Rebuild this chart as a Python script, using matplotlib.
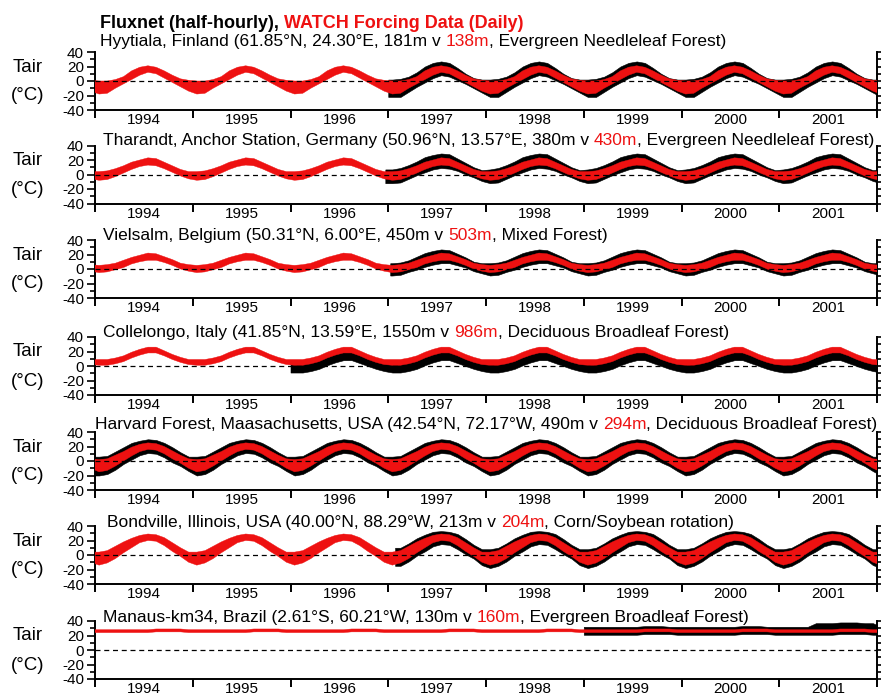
import matplotlib
matplotlib.use('Agg')
import matplotlib.pyplot as plt
from matplotlib.ticker import MultipleLocator, FixedLocator, NullFormatter, FixedFormatter
import numpy as np

plt.rcParams['font.family'] = ['Liberation Sans', 'DejaVu Sans']
plt.rcParams['axes.unicode_minus'] = False

RED = '#ee1111'

# ---------------- data (monthly, Jan..Dec, degC) ----------------
years = [1994, 1995, 1996, 1997, 1998, 1999, 2000, 2001]
year_labels = ['1994', '1995', '1996', '1997', '1998', '1999', '2000', '2001']

# Hyytiala
hyy_red_lo = [-18, -17, -10, -4, 2, 8, 12, 10, 4, -2, -8, -14]
hyy_red_hi = [0, 0, 2, 6, 14, 19, 21, 19, 14, 8, 3, 1]
hyy_blk_lo = [-22, -22, -15, -8, -2, 4, 8, 6, 1, -4, -10, -16]
hyy_blk_hi = [2, 3, 6, 12, 20, 25, 27, 25, 18, 10, 4, 2]
hyy_blk_start = 1997.0
# Tharandt
tha_red_lo = [-8, -7, -3, 2, 7, 11, 13, 12, 8, 3, -2, -6]
tha_red_hi = [4, 5, 8, 12, 17, 20, 23, 22, 17, 12, 7, 4]
tha_blk_lo = [-12, -11, -6, -1, 3, 7, 9, 8, 5, 0, -4, -9]
tha_blk_hi = [7, 9, 13, 18, 24, 27, 29, 28, 22, 16, 10, 6]
tha_blk_start = 1996.97
# Vielsalm
vie_red_lo = [-5, -4, -1, 2, 7, 10, 12, 12, 9, 5, 0, -3]
vie_red_hi = [5, 6, 8, 12, 16, 19, 22, 21, 17, 13, 8, 6]
vie_blk_lo = [-9, -8, -4, -1, 3, 6, 8, 8, 5, 2, -3, -6]
vie_blk_hi = [8, 9, 12, 17, 22, 25, 27, 26, 21, 16, 10, 8]
vie_blk_start = 1997.02
# Collelongo
col_red_lo = [1, 1, 3, 6, 11, 15, 18, 18, 14, 9, 5, 2]
col_red_hi = [9, 9, 11, 14, 19, 23, 26, 26, 21, 16, 12, 9]
col_blk_lo = [-9, -9, -7, -4, 1, 5, 8, 8, 4, 0, -4, -7]
col_blk_hi = [5, 5, 7, 10, 16, 20, 23, 23, 18, 13, 8, 5]
col_blk_start = 1996.0
# Harvard Forest
har_red_lo = [-15, -13, -7, 0, 7, 13, 16, 15, 10, 3, -3, -10]
har_red_hi = [2, 3, 8, 13, 19, 23, 25, 24, 20, 14, 8, 3]
har_blk_lo = [-20, -18, -12, -4, 2, 8, 11, 10, 5, -2, -7, -14]
har_blk_hi = [6, 7, 13, 19, 25, 28, 30, 29, 25, 19, 12, 6]
har_blk_start = 1994.0
# Bondville
bon_red_lo = [-14, -11, -5, 3, 10, 17, 20, 19, 13, 5, -2, -10]
bon_red_hi = [4, 6, 12, 18, 23, 27, 29, 28, 24, 17, 10, 4]
bon_blk_lo = [-18, -15, -9, -1, 5, 12, 15, 14, 8, 1, -5, -14]
bon_blk_hi = [8, 10, 16, 23, 28, 32, 33, 32, 29, 22, 14, 8]
bon_blk_start = 1997.07
# Manaus
man_red_lo = [24, 24, 24, 24, 24, 24, 24, 25, 25, 25, 25, 24]
man_red_hi = [28, 28, 28, 28, 28, 28, 28, 29, 29, 29, 29, 28]
man_blk_lo = [21, 21, 21, 21, 21, 21, 21, 22, 22, 22, 22, 21]
man_blk_hi = [32, 32, 32, 32, 32, 32, 32, 33, 33, 33, 32, 32]
man_blk_hi_2001 = [32, 32, 32, 32, 37, 37, 37, 38, 38, 38, 37, 37]
man_blk_start = 1999.0

site_titles = [
    ["Hyytiala, Finland (61.85°N, 24.30°E, 181m v", " 138m", ", Evergreen Needleleaf Forest)"],
    ["Tharandt, Anchor Station, Germany (50.96°N, 13.57°E, 380m v", " 430m", ", Evergreen Needleleaf Forest)"],
    ["Vielsalm, Belgium (50.31°N, 6.00°E, 450m v", " 503m", ", Mixed Forest)"],
    ["Collelongo, Italy (41.85°N, 13.59°E, 1550m v", " 986m", ", Deciduous Broadleaf Forest)"],
    ["Harvard Forest, Maasachusetts, USA (42.54°N, 72.17°W, 490m v", " 294m", ", Deciduous Broadleaf Forest)"],
    ["Bondville, Illinois, USA (40.00°N, 88.29°W, 213m v", " 204m", ", Corn/Soybean rotation)"],
    ["Manaus-km34, Brazil (2.61°S, 60.21°W, 130m v", " 160m", ", Evergreen Broadleaf Forest)"],
]

sites = [
    (hyy_red_lo, hyy_red_hi, hyy_blk_lo, hyy_blk_hi, hyy_blk_start, None),
    (tha_red_lo, tha_red_hi, tha_blk_lo, tha_blk_hi, tha_blk_start, None),
    (vie_red_lo, vie_red_hi, vie_blk_lo, vie_blk_hi, vie_blk_start, None),
    (col_red_lo, col_red_hi, col_blk_lo, col_blk_hi, col_blk_start, None),
    (har_red_lo, har_red_hi, har_blk_lo, har_blk_hi, har_blk_start, None),
    (bon_red_lo, bon_red_hi, bon_blk_lo, bon_blk_hi, bon_blk_start, None),
    (man_red_lo, man_red_hi, man_blk_lo, man_blk_hi, man_blk_start, {2001: man_blk_hi_2001}),
]

# ---------------- layout ----------------
W, H = 881, 700
fig = plt.figure(figsize=(W / 100, H / 100), dpi=100)
renderer = fig.canvas.get_renderer()

AX_L, AX_W, AX_H = 95, 782, 58
panel_tops = [52, 145.5, 240, 337, 432, 526, 621]
title_base = [46, 145, 240, 337, 429, 527, 622]
title_x = [100, 103, 103, 103, 95, 107, 103]
TITLE_FS = 12.5


def fx(px):
    return px / W


def fy(py):
    return 1 - py / H


def text_width(s, **kw):
    t = fig.text(0, 0, s, **kw)
    w = t.get_window_extent(renderer).width
    t.remove()
    return w


def draw_parts(x, y, parts, colors, **kw):
    sp = text_width("x x", **kw) - text_width("xx", **kw)
    for s, c in zip(parts, colors):
        lead = len(s) - len(s.lstrip(' '))
        x += lead * sp
        s = s.lstrip(' ')
        t = fig.text(fx(x), fy(y), s, color=c, ha='left', va='baseline', **kw)
        x += t.get_window_extent(renderer).width


# overall title
draw_parts(100, 28, ["Fluxnet (half-hourly),", " WATCH Forcing Data (Daily)"], ['k', RED],
           fontsize=13, fontweight='bold')


def monthly_series(lo, hi, y0, y1, override=None):
    xs, los, his = [], [], []
    for y in range(y0, y1 + 1):
        for m in range(12):
            xs.append(y + (m + 0.5) / 12)
            los.append(lo[m])
            h = hi[m]
            if override is not None and y in override:
                h = override[y][m]
            his.append(h)
    return np.array(xs), np.array(los), np.array(his)


for i, (rlo, rhi, blo, bhi, bstart, over) in enumerate(sites):
    top = panel_tops[i]
    ax = fig.add_axes([fx(AX_L), fy(top + AX_H), AX_W / W, AX_H / H])
    ax.set_xlim(1994, 2002)
    ax.set_ylim(-40, 40)

    # black (Fluxnet half-hourly) envelope
    xb, lb, hb = monthly_series(blo, bhi, 1993, 2002, over)
    m = (xb >= bstart)
    first = np.argmax(m)
    xb2 = np.concatenate([[bstart], xb[m]])
    lb2 = np.concatenate([[lb[first]], lb[m]])
    hb2 = np.concatenate([[hb[first]], hb[m]])
    ax.fill_between(xb2, lb2, hb2, color='k', lw=0.4, zorder=2)

    # red (WATCH daily) envelope
    xr, lr, hr = monthly_series(rlo, rhi, 1993, 2002)
    ax.fill_between(xr, lr, hr, color=RED, lw=0.3, zorder=3)

    ax.axhline(0, color='k', lw=0.9, ls=(0, (4, 3)), zorder=4)

    for s in ['left', 'right', 'bottom']:
        ax.spines[s].set_linewidth(1.4)
    ax.spines['top'].set_visible(False)

    ax.yaxis.set_major_locator(FixedLocator([-40, -20, 0, 20, 40]))
    ax.yaxis.set_minor_locator(MultipleLocator(10))
    ax.tick_params(axis='y', which='both', direction='out', left=True, right=True,
                   labelright=False, labelsize=11, pad=2, width=1.2)
    ax.tick_params(axis='y', which='major', length=6)
    ax.tick_params(axis='y', which='minor', length=3.5)

    ax.xaxis.set_major_locator(FixedLocator(list(range(1994, 2003))))
    ax.xaxis.set_major_formatter(NullFormatter())
    ax.xaxis.set_minor_locator(FixedLocator([y + 0.5 for y in years]))
    ax.xaxis.set_minor_formatter(FixedFormatter(year_labels))
    ax.tick_params(axis='x', which='major', direction='out', length=6, width=1.4,
                   top=False)
    ax.tick_params(axis='x', which='minor', length=0, pad=2.5, labelsize=11, top=False)

    # y label
    fig.text(fx(28), fy(top + 15), "Tair", ha='center', va='center', fontsize=13.5)
    fig.text(fx(28), fy(top + 44), "(°C)", ha='center', va='center', fontsize=13.5)

    # site title
    p = site_titles[i]
    draw_parts(title_x[i], title_base[i], p, ['k', RED, 'k'], fontsize=TITLE_FS)

fig.savefig('out.png', dpi=100)
